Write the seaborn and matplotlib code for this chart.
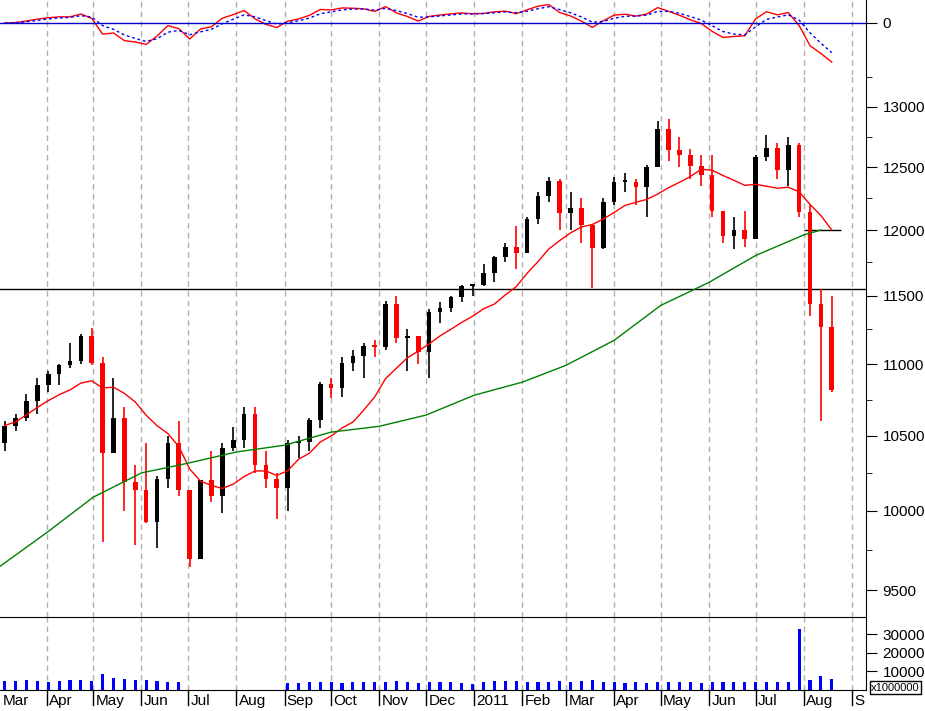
import numpy as np
import pandas as pd
import matplotlib
matplotlib.use("Agg")
import matplotlib.pyplot as plt
import matplotlib.dates as mdates
import seaborn as sns

plt.rcParams["font.family"] = "Liberation Sans"

week_dates = pd.date_range("2010-03-05", "2011-08-19", freq="W-FRI")
highs = [10600,10650,10790,10900,10950,11000,11150,11220,11260,11050,10900,10700,10300,10450,10230,10500,10600,10140,10200,10400,10450,10560,10700,10700,10400,10250,10470,10500,10620,10870,10900,11050,11100,11150,11170,11460,11500,11250,11200,11400,11450,11500,11580,11590,
         11740,11800,11900,12030,12100,12300,12420,12400,12300,12250,12050,12250,12420,12450,12400,12520,12880,12900,12750,12650,12600,12600,12150,12100,12150,12600,12760,12700,12750,12700,12200,11550,11500]
lows = [10400,10530,10600,10650,10800,10850,10970,11000,10990,9800,10380,10000,9780,9920,9760,10150,10100,9640,9690,10060,9990,10400,10420,10250,10150,9950,10000,10350,10400,10550,10760,10770,10950,10900,11050,11100,11150,10950,11000,10900,11300,11380,11450,11500,
        11570,11600,11750,11700,11820,12050,12220,12000,12000,11900,11560,11850,12200,12300,12200,12100,12500,12550,12500,12400,12350,12100,11900,11850,11870,11930,12550,12400,12350,12100,11350,10600,10800]
closes = [10570,10620,10740,10850,10930,10990,11020,11200,11010,10380,10620,10190,10140,9930,10210,10450,10140,9690,10200,10100,10420,10470,10650,10300,10210,10150,10450,10460,10610,10860,10830,11010,11060,11130,11120,11440,11190,11200,11090,11380,11410,11490,11570,11580,
          11670,11790,11870,11820,12090,12270,12390,12130,12170,12040,11860,12220,12380,12380,12340,12500,12810,12640,12600,12510,12440,12150,11950,12000,11930,12580,12660,12480,12680,12140,11440,11270,10820]
volumes = [4800,5000,5200,4600,4500,4700,5600,5200,5000,8500,6500,6000,5200,5500,4800,4500,4200,np.nan,np.nan,np.nan,np.nan,np.nan,np.nan,np.nan,np.nan,np.nan,4000,3900,4200,4300,4100,4000,4300,4200,4100,4500,4600,4200,3800,4300,4100,4200,3500,3300,
           4500,4600,4700,4600,4400,4300,4300,4800,4500,4700,5600,4500,4200,4000,4200,3900,4100,4300,4100,4200,3900,4300,4500,4400,4300,4100,4200,4300,4100,33000,5500,7500,6000]
ma200_dates = pd.to_datetime(["2010-03-01","2010-04-01","2010-05-01","2010-06-01","2010-07-01","2010-08-01","2010-09-01","2010-10-01","2010-11-01","2010-12-01",
                              "2011-01-01","2011-02-01","2011-03-01","2011-04-01","2011-05-01","2011-06-01","2011-07-01","2011-08-01","2011-08-12"])
ma200_vals = [9640,9860,10090,10250,10315,10390,10436,10525,10565,10642,10780,10872,10991,11171,11427,11599,11803,11962,12000]
month_ticks = pd.to_datetime(["2010-03-01","2010-04-01","2010-05-01","2010-06-01","2010-07-01","2010-08-01","2010-09-01","2010-10-01","2010-11-01","2010-12-01",
                              "2011-01-01","2011-02-01","2011-03-01","2011-04-01","2011-05-01","2011-06-01","2011-07-01","2011-08-01","2011-09-01"])
month_labels = ["Mar","Apr","May","Jun","Jul","Aug","Sep","Oct","Nov","Dec","2011","Feb","Mar","Apr","May","Jun","Jul","Aug","S"]
price_ticks = [9500,10000,10500,11000,11500,12000,12500,13000]
vol_ticks = [10000,20000,30000]

df = pd.DataFrame({"date": week_dates, "high": highs, "low": lows, "close": closes, "vol": volumes})
df["open"] = df["close"].shift(1).fillna(10450)
df["ma50"] = df["close"].rolling(10, min_periods=1).mean()
ema_f = df["close"].ewm(span=3).mean()
ema_s = df["close"].ewm(span=6).mean()
df["macd"] = ema_f - ema_s
df["sig"] = df["macd"].ewm(span=3).mean()

W, H = 925, 711
fig = plt.figure(figsize=(W/100, H/100), dpi=100)
right = 866 / W
ax_o = fig.add_axes([0, 1 - 75/H, right, 75/H])
ax_p = fig.add_axes([0, 1 - 617/H, right, (617-75)/H])
ax_v = fig.add_axes([0, 1 - 690/H, right, (690-617)/H])

xmin = mdates.date2num(pd.Timestamp("2010-03-02"))
xmax = mdates.date2num(pd.Timestamp("2011-09-10"))
for ax in (ax_o, ax_p, ax_v):
    ax.set_xlim(xmin, xmax)
    for d in month_ticks:
        ax.axvline(mdates.date2num(d), color="#b0b0b0", lw=1, ls=(0, (4, 3)), zorder=0)
    ax.yaxis.tick_right()
    for s in ("top", "left", "bottom"):
        ax.spines[s].set_visible(False)
    ax.tick_params(axis="y", direction="out", length=8, labelsize=11, pad=4)
    ax.tick_params(axis="x", bottom=False, labelbottom=False)

# price candles
x = mdates.date2num(df["date"])
up = df["close"] >= df["open"]
cols = np.where(up, "black", "red")
ax_p.vlines(x, df["low"], df["high"], colors=cols, lw=1.2, zorder=3)
ax_p.bar(x, (df["close"] - df["open"]).abs().clip(lower=15), bottom=np.minimum(df["open"], df["close"]),
         width=3.0, color=cols, zorder=3)
sns.lineplot(x=x, y=df["ma50"].values, ax=ax_p, color="red", lw=1, zorder=4)
sns.lineplot(x=mdates.date2num(ma200_dates), y=ma200_vals, ax=ax_p, color="green", lw=1, zorder=4)
ax_p.axhline(11550, color="black", lw=1)
ax_p.hlines(12000, mdates.date2num(pd.Timestamp("2011-08-01")), mdates.date2num(pd.Timestamp("2011-08-25")), color="black", lw=1)
ax_p.set_yscale("log")
ax_p.set_ylim(9335, 13270)
ax_p.set_yticks(price_ticks)
ax_p.set_yticklabels([str(t) for t in price_ticks])
ax_p.yaxis.set_minor_locator(matplotlib.ticker.FixedLocator(np.arange(9250, 13700, 250)))
ax_p.yaxis.set_minor_formatter(matplotlib.ticker.NullFormatter())
ax_p.tick_params(axis="y", which="minor", length=4)

# oscillator
sns.lineplot(x=x, y=df["macd"].values, ax=ax_o, color="red", lw=1)
sns.lineplot(x=x, y=df["sig"].values, ax=ax_o, color="blue", lw=1, ls=(0, (2, 2)))
ax_o.axhline(0, color="#0000cc", lw=1)
m = df["macd"]
k = max(m.max() / (0.8 * 23), -m.min() / (0.8 * 52))
ax_o.set_ylim(-52 * k, 23 * k)
ax_o.set_yticks([0])
ax_o.set_yticklabels(["0"])

# volume
ax_v.bar(x, df["vol"], width=2.0, color="blue")
ax_v.set_ylim(0, 39200)
ax_v.set_yticks(vol_ticks)
ax_v.set_yticklabels([str(t) for t in vol_ticks])
ax_v.spines["top"].set_visible(True)
ax_v.spines["bottom"].set_visible(True)
ax_v.text(1.006, 0.10, "x1000000", transform=ax_v.transAxes, fontsize=8, va="top", ha="left",
          bbox=dict(facecolor="white", edgecolor="black", pad=1))
for d, lab in zip(month_ticks, month_labels):
    xd = mdates.date2num(d)
    ax_v.text(max(xd, xmin) + 1.5, -0.06, lab, transform=ax_v.get_xaxis_transform(), fontsize=11, va="top", ha="left", clip_on=False)
    ax_v.plot([xd, xd], [0, -0.2], transform=ax_v.get_xaxis_transform(), color="black", lw=1, clip_on=False)

fig.savefig("out.png", dpi=100)
